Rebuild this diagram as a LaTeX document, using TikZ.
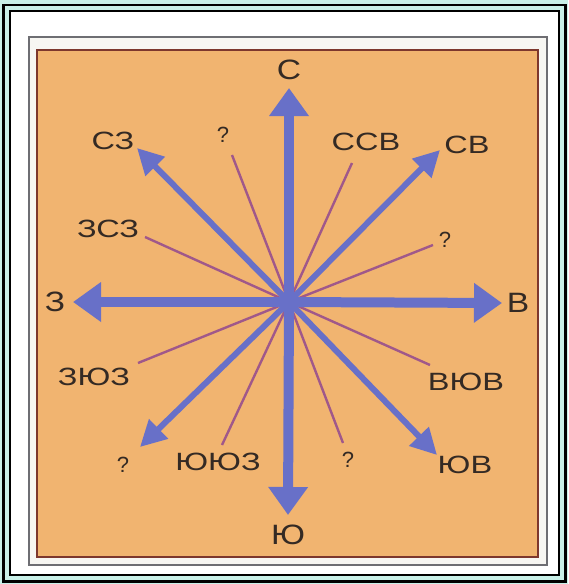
\documentclass[tikz,border=0pt]{standalone}
\usepackage{fontspec}
\setmainfont{Liberation Sans}
\usetikzlibrary{arrows.meta}
\definecolor{frameteal}{RGB}{200,240,232}
\definecolor{cardbg}{RGB}{247,246,242}
\definecolor{cardline}{RGB}{110,110,115}
\definecolor{orangebg}{RGB}{241,180,112}
\definecolor{sqborder}{RGB}{125,55,45}
\definecolor{arrowblue}{RGB}{104,112,200}
\definecolor{thinline}{RGB}{160,88,138}
\definecolor{txt}{RGB}{52,42,36}
\newcommand\widebig[1]{\scalebox{1.2}[1]{#1}}
\newcommand\widesmall[1]{\scalebox{1.3}[1]{#1}}
\begin{document}
\begin{tikzpicture}[x=1pt,y=-1pt,
  mainarrow/.style={arrowblue, line width=10pt, -{Triangle[width=38pt,length=28pt]}},
  diagarrow/.style={arrowblue, line width=6pt, -{Triangle[width=26pt,length=26pt]}},
  thinray/.style={thinline, line width=2.4pt},
  biglabel/.style={text=txt, font=\fontsize{28}{28}\selectfont, inner sep=0pt},
  smalllabel/.style={text=txt, font=\fontsize{25}{25}\selectfont, inner sep=0pt},
  qlabel/.style={text=txt, font=\fontsize{22}{22}\selectfont, inner sep=0pt},
]
\useasboundingbox (0,0) rectangle (568,584);
% frame
\fill[frameteal] (0,0) rectangle (568,584);
\draw[line width=2.5pt] (3.5,5) rectangle (565.5,581.5);
\draw[line width=2pt, fill=white] (9.5,10.5) rectangle (559,574.5);
% card and orange square
\draw[cardline, line width=1.3pt, fill=cardbg] (29,37) rectangle (547,565);
\draw[sqborder, line width=1.5pt, fill=orangebg] (37,50) rectangle (538,557);

% centre and end points
\coordinate (O) at (289,302);
\coordinate (tN) at (289,88);
\coordinate (tS) at (288,515);
\coordinate (tW) at (73,302);
\coordinate (tE) at (502,303);
\coordinate (tNE) at (440,150);
\coordinate (tNW) at (137,148);
\coordinate (tSW) at (140,447);
\coordinate (tSE) at (437,455);
\coordinate (eNNW) at (232,155);
\coordinate (eWNW) at (145,237);
\coordinate (eNNE) at (352,163);
\coordinate (eENE) at (433,245);
\coordinate (eWSW) at (138,363);
\coordinate (eSSW) at (222,445);
\coordinate (eESE) at (430,365);
\coordinate (eSSE) at (343,443);

% thin rays
\foreach \e in {eNNW,eWNW,eNNE,eENE,eWSW,eSSW,eESE,eSSE}
  \draw[thinray] (O) -- (\e);
% diagonal arrows
\foreach \t in {tNE,tNW,tSW,tSE}
  \draw[diagarrow] (O) -- (\t);
% main arrows
\foreach \t in {tN,tS,tW,tE}
  \draw[mainarrow] (O) -- (\t);

% labels
\node[biglabel] (lN) at (289,70) {\widebig{С}};
\node[biglabel] (lS) at (288,535) {\widebig{Ю}};
\node[biglabel] (lW) at (55,302) {\widebig{З}};
\node[biglabel] (lE) at (518,303) {\widebig{В}};
\node[smalllabel] (lNW) at (113,141) {\widesmall{СЗ}};
\node[smalllabel] (lNE) at (467,145) {\widesmall{СВ}};
\node[smalllabel] (lSE) at (465,465) {\widesmall{ЮВ}};
\node[qlabel] (lSW) at (123,465) {?};
\node[qlabel] (lNNW) at (223,135) {?};
\node[smalllabel] (lWNW) at (108,229) {\widesmall{ЗСЗ}};
\node[smalllabel] (lNNE) at (366,142) {\widesmall{ССВ}};
\node[qlabel] (lENE) at (445,240) {?};
\node[smalllabel] (lWSW) at (94,377) {\widesmall{ЗЮЗ}};
\node[smalllabel] (lSSW) at (218,462) {\widesmall{ЮЮЗ}};
\node[smalllabel] (lESE) at (466,382) {\widesmall{ВЮВ}};
\node[qlabel] (lSSE) at (348,460) {?};
\end{tikzpicture}
\end{document}
